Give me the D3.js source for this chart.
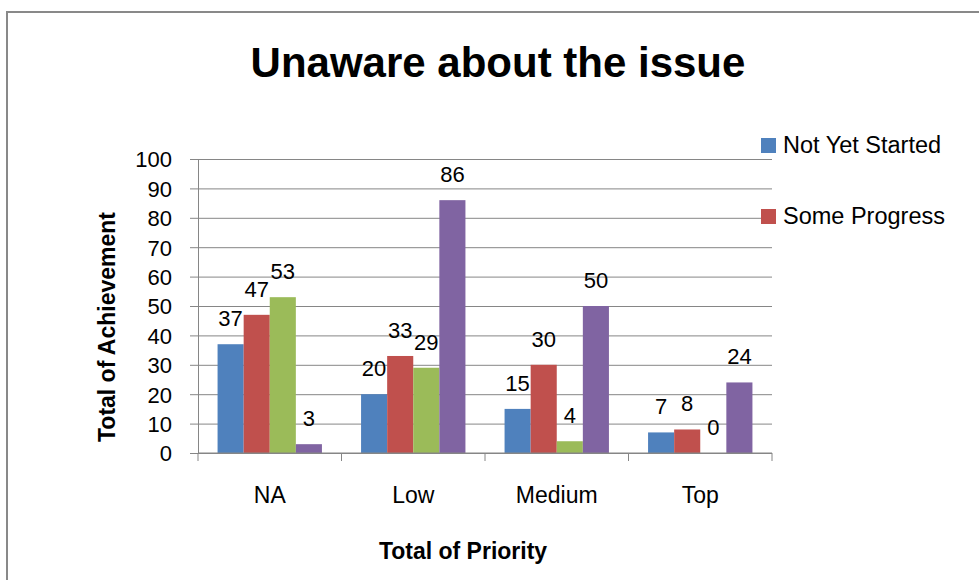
<!DOCTYPE html>
<html>
<head>
<meta charset="utf-8">
<script src="https://cdn.jsdelivr.net/npm/d3@7"></script>
<style>
  body { margin: 0; background: #fff; }
  text { font-family: "Liberation Sans", Arial, sans-serif; fill: #000; }
</style>
</head>
<body>
<div id="chart"></div>
<script>
// data
const categories = ["NA", "Low", "Medium", "Top"];
const seriesNames = ["Not Yet Started", "Some Progress", "Completed", "Other"];
const notYetStarted = [37, 20, 15, 7];
const someProgress = [47, 33, 30, 8];
const completed = [53, 29, 4, 0];
const other = [3, 86, 50, 24];
const yTicks = [0, 10, 20, 30, 40, 50, 60, 70, 80, 90, 100];

const colors = ["#4f81bd", "#c0504d", "#9bbb59", "#8064a2"];
const seriesValues = [notYetStarted, someProgress, completed, other];

const W = 979, H = 580;
const plot = {left: 198, right: 772, top: 159, bottom: 453};

const svg = d3.select("#chart").append("svg")
    .attr("width", W)
    .attr("height", H);

// chart frame (cut off at right and bottom)
svg.append("path")
    .attr("d", `M7,${H + 5} L7,12 L${W + 5},12`)
    .attr("fill", "none")
    .attr("stroke", "#898989")
    .attr("stroke-width", 2);

const x = d3.scaleBand()
    .domain(categories)
    .range([plot.left, plot.right]);

const xs = d3.scaleBand()
    .domain(seriesNames)
    .range([0, x.bandwidth()])
    .paddingOuter(0.75);

const y = d3.scaleLinear()
    .domain([0, 100])
    .range([plot.bottom, plot.top]);

// gridlines
svg.append("g")
    .attr("transform", `translate(${plot.left},0)`)
    .call(d3.axisLeft(y).tickValues(yTicks).tickSize(-(plot.right - plot.left)).tickFormat(""))
    .call(g => g.select(".domain").remove())
    .call(g => g.selectAll("line").attr("stroke", "#868686"));

// y axis
svg.append("g")
    .attr("transform", `translate(${plot.left},0)`)
    .call(d3.axisLeft(y).tickValues(yTicks).tickSize(8).tickSizeOuter(0).tickPadding(18))
    .call(g => g.select(".domain").attr("stroke", "#868686"))
    .call(g => g.selectAll("line").attr("stroke", "#868686"))
    .call(g => g.selectAll("text")
        .attr("font-size", 22)
        .attr("font-family", "Liberation Sans, Arial, sans-serif")
        .attr("dy", "0.36em"));

// bars
const groups = svg.append("g")
    .selectAll("g")
    .data(seriesNames)
    .join("g")
    .attr("fill", (d, i) => colors[i]);

groups.selectAll("rect")
    .data((s, i) => categories.map((c, j) => ({cat: c, series: s, value: seriesValues[i][j]})))
    .join("rect")
    .attr("x", d => x(d.cat) + xs(d.series))
    .attr("y", d => y(d.value))
    .attr("width", xs.bandwidth())
    .attr("height", d => y(0) - y(d.value));

// x axis line and category boundary ticks
svg.append("line")
    .attr("x1", plot.left).attr("x2", plot.right)
    .attr("y1", y(0)).attr("y2", y(0))
    .attr("stroke", "#868686");

const bounds = categories.map(c => x(c)).concat([x(categories[categories.length - 1]) + x.bandwidth()]);
svg.append("g")
    .selectAll("line")
    .data(bounds)
    .join("line")
    .attr("x1", d => d).attr("x2", d => d)
    .attr("y1", y(0)).attr("y2", y(0) + 8)
    .attr("stroke", "#868686");

svg.append("g")
    .selectAll("text")
    .data(categories)
    .join("text")
    .attr("x", d => x(d) + x.bandwidth() / 2)
    .attr("y", 503)
    .attr("text-anchor", "middle")
    .attr("font-size", 23)
    .text(d => d);

// data labels
groups.selectAll("text")
    .data((s, i) => categories.map((c, j) => ({cat: c, series: s, value: seriesValues[i][j]})))
    .join("text")
    .attr("x", d => x(d.cat) + xs(d.series) + xs.bandwidth() / 2)
    .attr("y", d => y(d.value) - 18)
    .attr("text-anchor", "middle")
    .attr("font-size", 22)
    .attr("fill", "#000")
    .text(d => d.value);

// title
svg.append("text")
    .attr("x", 498)
    .attr("y", 77)
    .attr("text-anchor", "middle")
    .attr("font-size", 42)
    .attr("font-weight", "bold")
    .text("Unaware about the issue");

// axis titles
svg.append("text")
    .attr("transform", "translate(115,327) rotate(-90)")
    .attr("text-anchor", "middle")
    .attr("font-size", 23)
    .attr("font-weight", "bold")
    .text("Total of Achievement");

svg.append("text")
    .attr("x", 463)
    .attr("y", 559)
    .attr("text-anchor", "middle")
    .attr("font-size", 23)
    .attr("font-weight", "bold")
    .text("Total of Priority");

// legend (only the first two entries fit)
const legend = svg.append("g")
    .selectAll("g")
    .data(seriesNames.slice(0, 2))
    .join("g")
    .attr("transform", (d, i) => `translate(761,${138 + i * 71})`);

legend.append("rect")
    .attr("width", 15)
    .attr("height", 15)
    .attr("fill", (d, i) => colors[i]);

legend.append("text")
    .attr("x", 22)
    .attr("y", 15)
    .attr("font-size", 23.5)
    .text(d => d);
</script>
</body>
</html>
